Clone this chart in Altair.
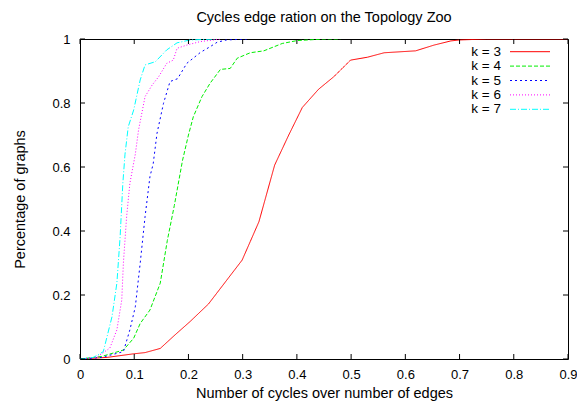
import altair as alt
import pandas as pd

# ---- data ----
series = ["k = 3", "k = 4", "k = 5", "k = 6", "k = 7"]
colors = ["#ff0000", "#00ee00", "#0000ff", "#ff00ff", "#00ffff"]
dashes = [[1, 0], [4, 2], [2, 3], [1, 2], [6, 2, 1, 2]]

k3_x = [0, 0.05, 0.098, 0.12, 0.148, 0.175, 0.203, 0.237, 0.27, 0.299, 0.314, 0.33, 0.359, 0.385,
        0.41, 0.44, 0.468, 0.499, 0.53, 0.561, 0.619, 0.653, 0.684, 0.70, 0.75, 0.9]
k3_y = [0, 0.005, 0.016, 0.02, 0.033, 0.075, 0.117, 0.172, 0.245, 0.309, 0.367, 0.429, 0.606, 0.70,
        0.786, 0.843, 0.882, 0.934, 0.943, 0.957, 0.963, 0.981, 0.994, 0.997, 1.0, 1.0]

k4_x = [0, 0.04, 0.08, 0.099, 0.111, 0.129, 0.148, 0.161, 0.174, 0.189, 0.20, 0.209, 0.225, 0.240,
        0.259, 0.277, 0.290, 0.314, 0.339, 0.373, 0.40, 0.45, 0.48]
k4_y = [0, 0.008, 0.028, 0.065, 0.111, 0.153, 0.237, 0.37, 0.48, 0.62, 0.70, 0.757, 0.82, 0.862,
        0.905, 0.908, 0.94, 0.957, 0.963, 0.986, 0.995, 1.0, 1.0]

k5_x = [0, 0.04, 0.08, 0.092, 0.102, 0.111, 0.120, 0.129, 0.135, 0.142, 0.154, 0.166, 0.18, 0.197,
        0.222, 0.24, 0.253, 0.27, 0.31]
k5_y = [0, 0.005, 0.023, 0.091, 0.163, 0.299, 0.445, 0.57, 0.61, 0.705, 0.799, 0.867, 0.876, 0.924,
        0.958, 0.976, 0.99, 0.997, 1.0]

k6_x = [0, 0.03, 0.055, 0.068, 0.077, 0.080, 0.086, 0.092, 0.102, 0.108, 0.120, 0.133, 0.145, 0.160,
        0.172, 0.179, 0.197, 0.222, 0.26]
k6_y = [0, 0.005, 0.034, 0.091, 0.184, 0.299, 0.445, 0.549, 0.64, 0.716, 0.82, 0.856, 0.882, 0.924,
        0.934, 0.971, 0.981, 0.992, 1.0]

k7_x = [0, 0.025, 0.043, 0.059, 0.068, 0.074, 0.079, 0.083, 0.089, 0.099, 0.111, 0.120, 0.139, 0.160,
        0.179, 0.203, 0.25]
k7_y = [0, 0.005, 0.023, 0.132, 0.237, 0.382, 0.549, 0.64, 0.726, 0.778, 0.872, 0.919, 0.929, 0.966,
        0.988, 0.997, 1.0]

x_ticks = [0, 0.1, 0.2, 0.3, 0.4, 0.5, 0.6, 0.7, 0.8, 0.9]
y_ticks = [0, 0.2, 0.4, 0.6, 0.8, 1]

# ---- build tables ----
rows = []
for name, xs, ys in zip(series, [k3_x, k4_x, k5_x, k6_x, k7_x], [k3_y, k4_y, k5_y, k6_y, k7_y]):
    for i, (a, b) in enumerate(zip(xs, ys)):
        rows.append({"k": name, "x": a, "y": b, "i": i})
df = pd.DataFrame(rows)
xt = pd.DataFrame({"v": x_ticks})
yt = pd.DataFrame({"v": y_ticks})
leg = pd.DataFrame({"k": series})

W, H = 488, 320
FONT = "Liberation Sans"

xscale = alt.Scale(domain=[0, 0.9], nice=False, zero=False)
yscale = alt.Scale(domain=[0, 1], nice=False, zero=False)
cscale = alt.Scale(domain=series, range=colors)
dscale = alt.Scale(domain=series, range=dashes)

lines = alt.Chart(df).mark_line(strokeWidth=1, clip=True).encode(
    x=alt.X("x:Q", scale=xscale,
            axis=alt.Axis(values=x_ticks, format="~g", title="Number of cycles over number of edges",
                          ticks=False, domain=False, grid=False, labelPadding=9, titlePadding=5,
                          labelFlush=False)),
    y=alt.Y("y:Q", scale=yscale,
            axis=alt.Axis(values=y_ticks, format="~g", title="Percentage of graphs",
                          ticks=False, domain=False, grid=False, labelPadding=10, titlePadding=24,
                          labelFlush=False)),
    color=alt.Color("k:N", scale=cscale, legend=None),
    strokeDash=alt.StrokeDash("k:N", scale=dscale, legend=None),
    order=alt.Order("i:Q"),
)

tick_style = dict(color="black", strokeWidth=1)
top_ticks = alt.Chart(xt).mark_rule(**tick_style).encode(
    x=alt.X("v:Q", scale=xscale), y=alt.value(0), y2=alt.value(5))
bot_ticks = alt.Chart(xt).mark_rule(**tick_style).encode(
    x=alt.X("v:Q", scale=xscale), y=alt.value(H), y2=alt.value(H - 5))
left_ticks = alt.Chart(yt).mark_rule(**tick_style).encode(
    y=alt.Y("v:Q", scale=yscale), x=alt.value(0), x2=alt.value(5))
right_ticks = alt.Chart(yt).mark_rule(**tick_style).encode(
    y=alt.Y("v:Q", scale=yscale), x=alt.value(W), x2=alt.value(W - 5))

main = alt.layer(lines, top_ticks, bot_ticks, left_ticks, right_ticks)

ly = alt.Y("k:N", scale=alt.Scale(type="point", domain=series, range=[12.7, 70.3], padding=0), axis=None)
leg_lines = alt.Chart(leg).mark_rule(strokeWidth=1).encode(
    y=ly, x=alt.value(430), x2=alt.value(470),
    color=alt.Color("k:N", scale=cscale, legend=None),
    strokeDash=alt.StrokeDash("k:N", scale=dscale, legend=None),
)
leg_text = alt.Chart(leg).mark_text(align="right", baseline="middle", font=FONT, fontSize=13.5,
                                    color="black").encode(
    y=ly, x=alt.value(421), text="k:N")

chart = alt.layer(main, leg_lines, leg_text).resolve_scale(y="independent").properties(
    width=W, height=H,
    title=alt.TitleParams("Cycles edge ration on the Topology Zoo", font=FONT, fontSize=14.5,
                          fontWeight="normal", color="black", offset=8, anchor="middle"),
    autosize=alt.AutoSizeParams(type="none"),
    padding={"left": 72, "top": 31, "right": 9, "bottom": 46},
).configure_view(stroke="black", strokeWidth=1).configure_axis(
    labelFont=FONT, labelFontSize=13, labelColor="black",
    titleFont=FONT, titleFontSize=14.5, titleFontWeight="normal", titleColor="black",
)

chart.save("out.html", embed_options={"renderer": "svg", "actions": False})
